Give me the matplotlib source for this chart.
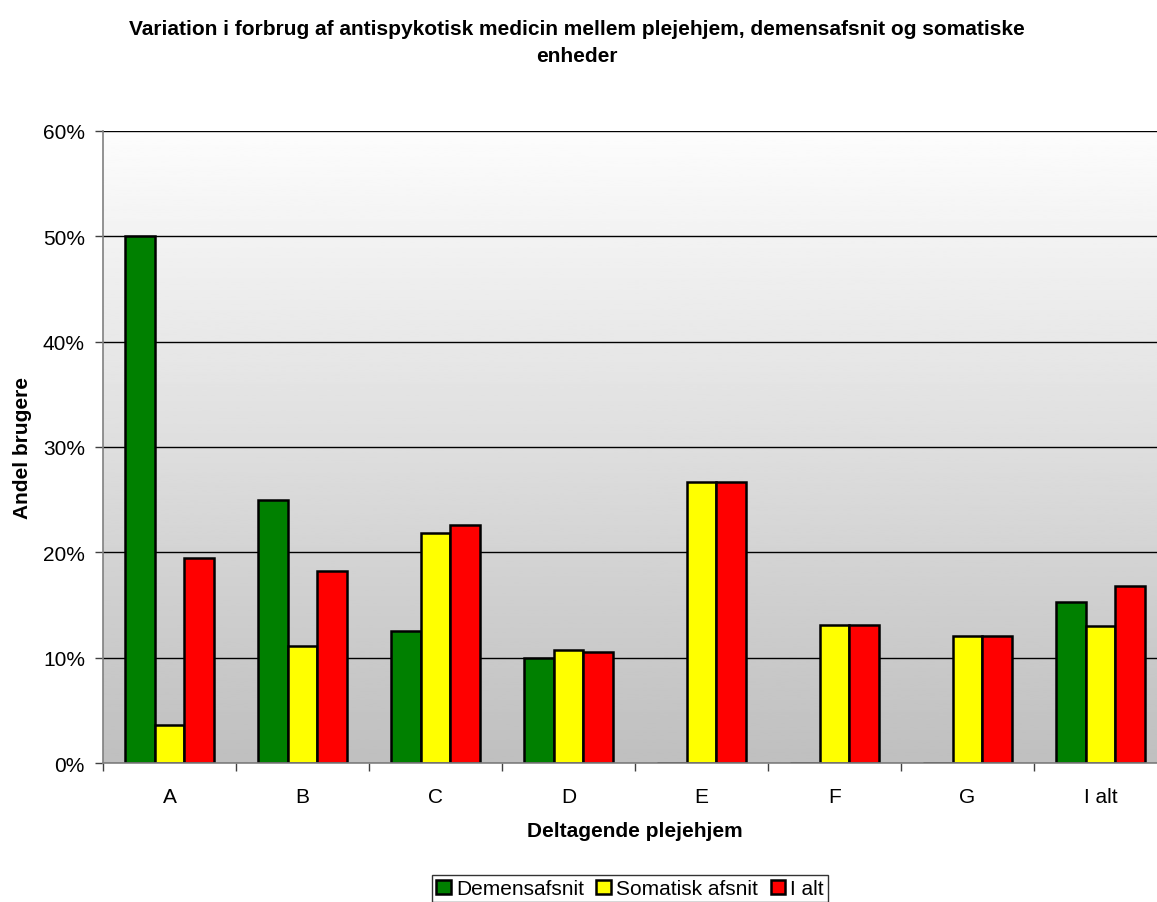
import numpy as np
from matplotlib import pyplot as plt
from matplotlib.ticker import PercentFormatter

plt.rcParams['font.family'] = ['Liberation Sans', 'DejaVu Sans']

# share of residents using antipsychotics, per home and unit type (%)
homes = ['A', 'B', 'C', 'D', 'E', 'F', 'G', 'I alt']
demens = [50.0, 25.0, 12.5, 10.0, 0, 0, 0, 15.3]
somatisk = [3.6, 11.1, 21.8, 10.7, 26.7, 13.1, 12.1, 13.0]
i_alt = [19.5, 18.2, 22.6, 10.5, 26.7, 13.1, 12.1, 16.8]

series = [('Demensafsnit', demens, '#008000'),
          ('Somatisk afsnit', somatisk, '#ffff00'),
          ('I alt', i_alt, '#ff0000')]

FS = 15

W, H = 1157, 903
fig = plt.figure(figsize=(W / 100, H / 100), dpi=100)
# plot area runs a little past the right edge of the page
ax = fig.add_axes([103 / W, 1 - 764 / H, (1167 - 103) / W, (764 - 132) / H])

x = np.arange(len(homes))
bw = 0.222
for i, (name, vals, col) in enumerate(series):
    ax.bar(x + (i - 1) * bw, vals, bw, color=col, edgecolor='black',
           linewidth=1.8, label=name, zorder=3)

# vertical white-to-grey wash behind the bars
grad = np.linspace(0.75, 0.99, 256).reshape(-1, 1)
ax.imshow(grad, cmap='gray', vmin=0, vmax=1, aspect='auto', origin='lower',
          extent=[-0.5, len(homes) - 0.5, 0, 60], zorder=0)
ax.set_xlim(-0.5, len(homes) - 0.5)
ax.set_ylim(0, 60)

ax.set_yticks(range(0, 61, 10))
ax.yaxis.set_major_formatter(PercentFormatter(decimals=0))
ax.yaxis.grid(True, color='black', linewidth=1, zorder=1)
ax.set_axisbelow(False)

ax.set_xticks(x)
ax.set_xticklabels(homes)
ax.set_xticks(np.arange(-0.5, len(homes)), minor=True)
ax.tick_params(axis='x', which='major', length=0, pad=17, labelsize=FS)
ax.tick_params(axis='x', which='minor', length=6, width=1, color='#404040')
ax.tick_params(axis='y', length=6, width=1, color='#404040', labelsize=FS, pad=7)

for s in ['top', 'right']:
    ax.spines[s].set_visible(False)
for s in ['left', 'bottom']:
    ax.spines[s].set_color('#808080')
    ax.spines[s].set_linewidth(1.2)
    ax.spines[s].set_zorder(4)

ax.set_xlabel('Deltagende plejehjem', fontsize=FS, fontweight='bold', labelpad=11)
ax.set_ylabel('Andel brugere', fontsize=FS, fontweight='bold', labelpad=8)

fig.text(577 / W, 1 - 43 / H,
         'Variation i forbrug af antispykotisk medicin mellem plejehjem, demensafsnit og somatiske\nenheder',
         ha='center', va='center', fontsize=FS, fontweight='bold', linespacing=1.5)

leg = fig.legend(loc='upper center', bbox_to_anchor=(630 / W, 1 - 876 / H), ncol=3,
                 fontsize=FS, frameon=True, fancybox=False, edgecolor='black',
                 handlelength=0.7, handleheight=0.7, handletextpad=0.25,
                 columnspacing=0.6, borderpad=0.2, borderaxespad=0)
leg.get_frame().set_linewidth(1)

fig.savefig('out.png', dpi=100)
